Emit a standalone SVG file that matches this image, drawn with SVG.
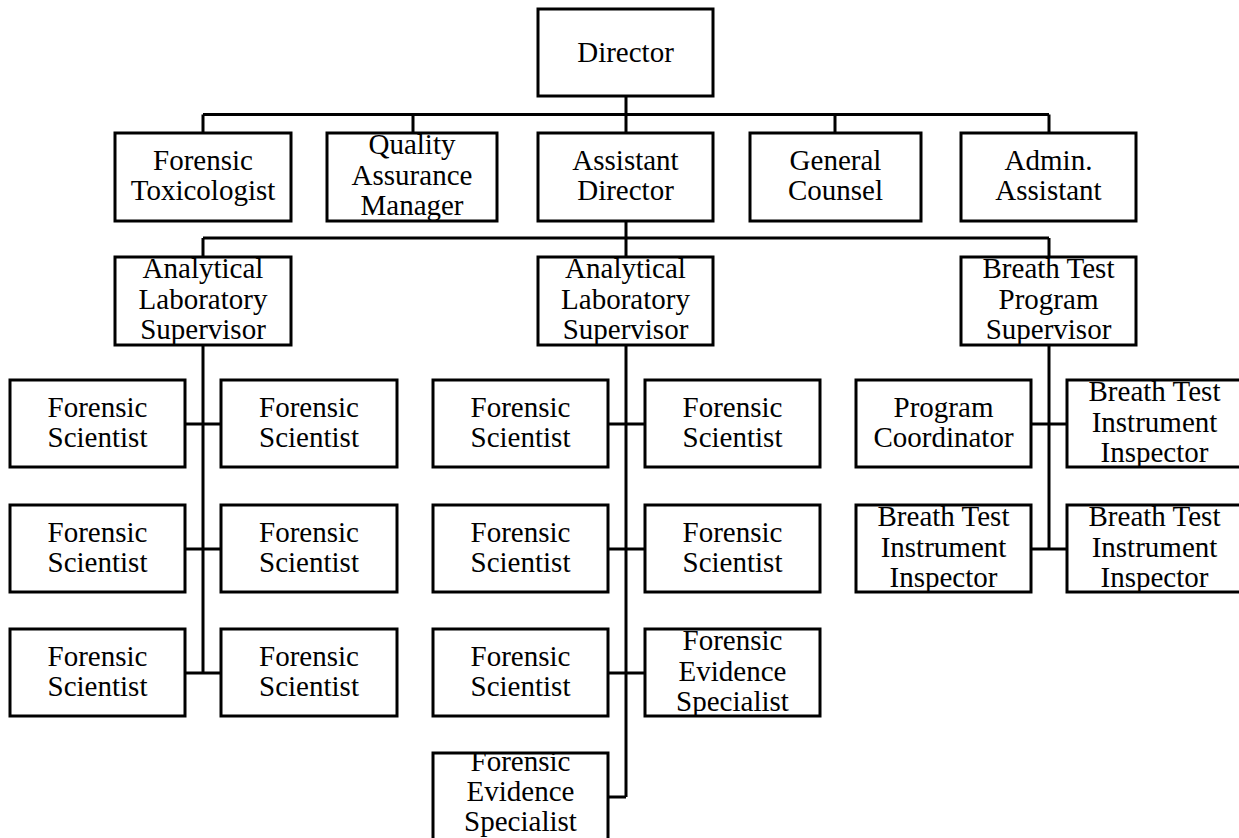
<svg xmlns="http://www.w3.org/2000/svg" width="1239" height="838" viewBox="0 0 1239 838">
<style>
rect{fill:#fff;stroke:#000;stroke-width:3}
text{font-family:"Liberation Serif","Times New Roman",serif;font-size:29px;fill:#000;text-anchor:middle}
#connectors path{fill:none;stroke:#000;stroke-width:3}
</style>
<rect x="0" y="0" width="1239" height="838" style="stroke:none"/>
<g id="connectors">
<path d="M626 96V133M203 114.5H1049M203 114.5V133M413 114.5V133M835 114.5V133M1049 114.5V133"/>
<path d="M626 221V257M203 238H1049M203 238V257M1049 238V257"/>
<path d="M203 345V673M185 424H221M185 549H221M185 673H221"/>
<path d="M626 345V797M608 424H645M608 549H645M608 673H645M608 797H626"/>
<path d="M1049 345V549M1031 424H1067M1031 549H1067"/>
</g>
<g id="director"><rect x="538" y="9" width="175" height="87"/><text x="625.5" y="62">Director</text></g>
<g id="forensic-toxicologist"><rect x="115" y="133" width="176" height="88"/><text x="203" y="170">Forensic</text><text x="203" y="200">Toxicologist</text></g>
<g id="quality-assurance-manager"><rect x="327" y="133" width="170" height="88"/><text x="412" y="154">Quality</text><text x="412" y="185">Assurance</text><text x="412" y="215">Manager</text></g>
<g id="assistant-director"><rect x="538" y="133" width="175" height="88"/><text x="625.5" y="170">Assistant</text><text x="625.5" y="200">Director</text></g>
<g id="general-counsel"><rect x="750" y="133" width="171" height="88"/><text x="835.5" y="170">General</text><text x="835.5" y="200">Counsel</text></g>
<g id="admin-assistant"><rect x="961" y="133" width="175" height="88"/><text x="1048.5" y="170">Admin.</text><text x="1048.5" y="200">Assistant</text></g>
<g id="als-1"><rect x="115" y="257" width="176" height="88"/><text x="203" y="278">Analytical</text><text x="203" y="309">Laboratory</text><text x="203" y="339">Supervisor</text></g>
<g id="als-2"><rect x="538" y="257" width="175" height="88"/><text x="625.5" y="278">Analytical</text><text x="625.5" y="309">Laboratory</text><text x="625.5" y="339">Supervisor</text></g>
<g id="btps"><rect x="961" y="257" width="175" height="88"/><text x="1048.5" y="278">Breath Test</text><text x="1048.5" y="309">Program</text><text x="1048.5" y="339">Supervisor</text></g>
<g id="fs-l1"><rect x="10" y="380" width="175" height="87"/><text x="97.5" y="417">Forensic</text><text x="97.5" y="447">Scientist</text></g>
<g id="fs-r1"><rect x="221" y="380" width="176" height="87"/><text x="309" y="417">Forensic</text><text x="309" y="447">Scientist</text></g>
<g id="fs-l2"><rect x="10" y="505" width="175" height="87"/><text x="97.5" y="542">Forensic</text><text x="97.5" y="572">Scientist</text></g>
<g id="fs-r2"><rect x="221" y="505" width="176" height="87"/><text x="309" y="542">Forensic</text><text x="309" y="572">Scientist</text></g>
<g id="fs-l3"><rect x="10" y="629" width="175" height="87"/><text x="97.5" y="666">Forensic</text><text x="97.5" y="696">Scientist</text></g>
<g id="fs-r3"><rect x="221" y="629" width="176" height="87"/><text x="309" y="666">Forensic</text><text x="309" y="696">Scientist</text></g>
<g id="fs-ml1"><rect x="433" y="380" width="175" height="87"/><text x="520.5" y="417">Forensic</text><text x="520.5" y="447">Scientist</text></g>
<g id="fs-mr1"><rect x="645" y="380" width="175" height="87"/><text x="732.5" y="417">Forensic</text><text x="732.5" y="447">Scientist</text></g>
<g id="fs-ml2"><rect x="433" y="505" width="175" height="87"/><text x="520.5" y="542">Forensic</text><text x="520.5" y="572">Scientist</text></g>
<g id="fs-mr2"><rect x="645" y="505" width="175" height="87"/><text x="732.5" y="542">Forensic</text><text x="732.5" y="572">Scientist</text></g>
<g id="fs-ml3"><rect x="433" y="629" width="175" height="87"/><text x="520.5" y="666">Forensic</text><text x="520.5" y="696">Scientist</text></g>
<g id="fes-mr3"><rect x="645" y="629" width="175" height="87"/><text x="732.5" y="650">Forensic</text><text x="732.5" y="681">Evidence</text><text x="732.5" y="711">Specialist</text></g>
<g id="fes-ml4"><rect x="433" y="753" width="175" height="90"/><text x="520.5" y="771">Forensic</text><text x="520.5" y="801">Evidence</text><text x="520.5" y="831">Specialist</text></g>
<g id="program-coordinator"><rect x="856" y="380" width="175" height="87"/><text x="943.5" y="417">Program</text><text x="943.5" y="447">Coordinator</text></g>
<g id="btii-r1"><rect x="1067" y="380" width="175" height="87"/><text x="1154.5" y="401">Breath Test</text><text x="1154.5" y="432">Instrument</text><text x="1154.5" y="462">Inspector</text></g>
<g id="btii-l2"><rect x="856" y="505" width="175" height="87"/><text x="943.5" y="526">Breath Test</text><text x="943.5" y="557">Instrument</text><text x="943.5" y="587">Inspector</text></g>
<g id="btii-r2"><rect x="1067" y="505" width="175" height="87"/><text x="1154.5" y="526">Breath Test</text><text x="1154.5" y="557">Instrument</text><text x="1154.5" y="587">Inspector</text></g>
</svg>
